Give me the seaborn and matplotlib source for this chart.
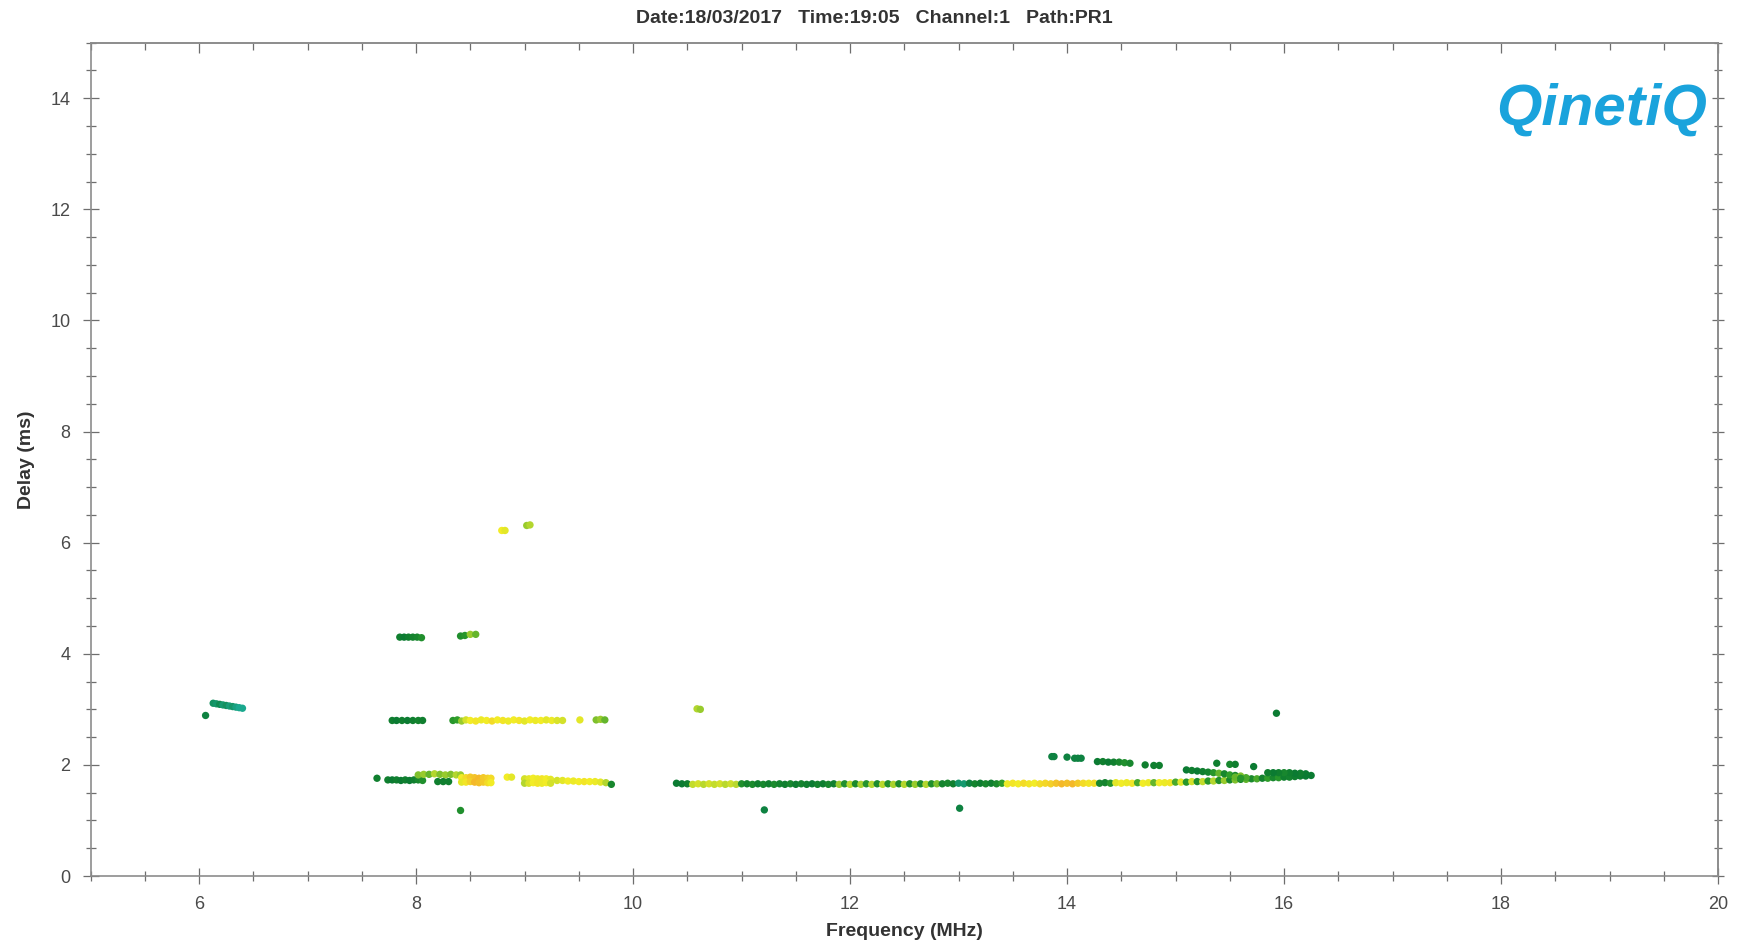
import numpy as np
import pandas as pd
import matplotlib
matplotlib.use("Agg")
import matplotlib.pyplot as plt
from matplotlib.colors import LinearSegmentedColormap
from matplotlib.ticker import MultipleLocator
import seaborn as sns

# ---------------- data ----------------
# main low-ray trace (F-layer)
f_low = [10.40, 10.45, 10.50, 10.55, 10.60, 10.65, 10.70, 10.75, 10.80, 10.85,
         10.90, 10.95, 11.00, 11.05, 11.10, 11.15, 11.20, 11.25, 11.30, 11.35,
         11.40, 11.45, 11.50, 11.55, 11.60, 11.65, 11.70, 11.75, 11.80, 11.85,
         11.90, 11.95, 12.00, 12.05, 12.10, 12.15, 12.20, 12.25, 12.30, 12.35,
         12.40, 12.45, 12.50, 12.55, 12.60, 12.65, 12.70, 12.75, 12.80, 12.85,
         12.90, 12.95, 13.00, 13.05, 13.10, 13.15, 13.20, 13.25, 13.30, 13.35,
         13.40, 13.45, 13.50, 13.55, 13.60, 13.65, 13.70, 13.75, 13.80, 13.85,
         13.90, 13.95, 14.00, 14.05, 14.10, 14.15, 14.20, 14.25, 14.30, 14.35,
         14.40, 14.45, 14.50, 14.55, 14.60, 14.65, 14.70, 14.75, 14.80, 14.85,
         14.90, 14.95, 15.00, 15.05, 15.10, 15.15, 15.20, 15.25, 15.30, 15.35,
         15.40, 15.45, 15.50, 15.55, 15.60, 15.65, 15.70, 15.75, 15.80, 15.85,
         15.90, 15.95, 16.00, 16.05, 16.10, 16.15, 16.20, 16.25]
d_low = [1.67, 1.66, 1.66, 1.65, 1.66, 1.65, 1.66, 1.65, 1.66, 1.65,
         1.66, 1.65, 1.66, 1.66, 1.65, 1.66, 1.65, 1.66, 1.65, 1.66,
         1.65, 1.66, 1.65, 1.66, 1.65, 1.66, 1.65, 1.66, 1.65, 1.66,
         1.65, 1.66, 1.65, 1.66, 1.65, 1.66, 1.65, 1.66, 1.65, 1.66,
         1.65, 1.66, 1.65, 1.66, 1.65, 1.66, 1.65, 1.66, 1.66, 1.66,
         1.67, 1.66, 1.67, 1.66, 1.67, 1.66, 1.67, 1.66, 1.67, 1.66,
         1.67, 1.66, 1.67, 1.66, 1.67, 1.66, 1.67, 1.66, 1.67, 1.66,
         1.67, 1.66, 1.67, 1.66, 1.67, 1.67, 1.67, 1.67, 1.67, 1.68,
         1.67, 1.68, 1.67, 1.68, 1.67, 1.68, 1.67, 1.68, 1.68, 1.68,
         1.68, 1.68, 1.69, 1.69, 1.69, 1.70, 1.70, 1.70, 1.71, 1.71,
         1.72, 1.72, 1.73, 1.73, 1.74, 1.74, 1.75, 1.75, 1.76, 1.76,
         1.77, 1.77, 1.78, 1.78, 1.79, 1.80, 1.80, 1.81]
a_low = [0.12, 0.12, 0.15, 0.65, 0.70, 0.62, 0.70, 0.65, 0.70, 0.62,
         0.68, 0.62, 0.25, 0.18, 0.22, 0.15, 0.20, 0.15, 0.22, 0.18,
         0.15, 0.20, 0.14, 0.18, 0.15, 0.12, 0.18, 0.14, 0.20, 0.15,
         0.55, 0.25, 0.62, 0.22, 0.58, 0.28, 0.60, 0.22, 0.62, 0.25,
         0.58, 0.22, 0.60, 0.25, 0.55, 0.22, 0.60, 0.25, 0.50, 0.18,
         0.20, 0.15, 0.05, 0.04, 0.10, 0.18, 0.14, 0.20, 0.15, 0.22,
         0.35, 0.78, 0.82, 0.80, 0.85, 0.82, 0.80, 0.84, 0.86, 0.88,
         0.92, 0.95, 0.93, 0.95, 0.90, 0.85, 0.82, 0.84, 0.20, 0.18,
         0.30, 0.75, 0.80, 0.78, 0.82, 0.40, 0.80, 0.78, 0.45, 0.80,
         0.78, 0.82, 0.40, 0.75, 0.30, 0.70, 0.25, 0.65, 0.30, 0.60,
         0.25, 0.55, 0.20, 0.50, 0.18, 0.45, 0.22, 0.40, 0.18, 0.35,
         0.20, 0.30, 0.15, 0.18, 0.15, 0.14, 0.12, 0.12]

# high-ray / nose return and nearby echoes
f_up = [16.20, 16.15, 16.10, 16.05, 16.00, 15.95, 15.90, 15.85,
        15.10, 15.15, 15.20, 15.25, 15.30, 15.35, 15.40, 15.45, 15.50, 15.55,
        15.55, 15.60, 15.65, 15.60,
        15.38, 15.50, 15.55, 15.72,
        14.28, 14.33, 14.38, 14.43, 14.48, 14.53, 14.58, 14.72, 14.80, 14.85,
        13.86, 13.88, 14.00, 14.07, 14.10, 14.13]
d_up = [1.84, 1.85, 1.85, 1.86, 1.86, 1.86, 1.86, 1.86,
        1.91, 1.90, 1.89, 1.88, 1.87, 1.86, 1.85, 1.84, 1.82, 1.81,
        1.78, 1.80, 1.77, 1.76,
        2.03, 2.01, 2.01, 1.97,
        2.06, 2.06, 2.05, 2.05, 2.05, 2.04, 2.03, 2.00, 1.99, 1.99,
        2.15, 2.15, 2.14, 2.12, 2.12, 2.12]
a_up = [0.12, 0.15, 0.12, 0.15, 0.20, 0.15, 0.12, 0.15,
        0.12, 0.15, 0.12, 0.15, 0.18, 0.30, 0.45, 0.20, 0.35, 0.20,
        0.45, 0.50, 0.40, 0.30,
        0.15, 0.20, 0.15, 0.12,
        0.12, 0.15, 0.12, 0.15, 0.20, 0.25, 0.20, 0.15, 0.15, 0.15,
        0.10, 0.10, 0.10, 0.10, 0.10, 0.10]

# lower-frequency echoes (7.6-9.8 MHz)
f_echo = [7.78, 7.82, 7.87, 7.92, 7.97, 8.02, 8.06,
          8.34, 8.38, 8.42, 8.46, 8.50, 8.55, 8.60, 8.65, 8.70, 8.75, 8.80,
          8.85, 8.90, 8.95, 9.00, 9.05, 9.10, 9.15, 9.20, 9.25, 9.30, 9.35,
          9.51, 9.66, 9.70, 9.74,
          7.64,
          7.74, 7.78, 7.82, 7.86, 7.90, 7.94, 7.98, 8.02, 8.06,
          8.02, 8.07, 8.12, 8.17, 8.22, 8.27, 8.32, 8.37, 8.41,
          8.20, 8.25, 8.30,
          8.42, 8.46, 8.50, 8.54, 8.58, 8.62, 8.66, 8.69,
          8.42, 8.46, 8.50, 8.54, 8.58, 8.62, 8.66, 8.69,
          8.84, 8.88,
          9.00, 9.04, 9.08, 9.12, 9.16, 9.20, 9.24,
          9.00, 9.04, 9.08, 9.12, 9.16, 9.20, 9.24,
          9.30, 9.35, 9.40, 9.45, 9.50, 9.55, 9.60, 9.65, 9.70, 9.75, 9.80]
d_echo = [2.80, 2.80, 2.80, 2.80, 2.80, 2.80, 2.80,
          2.80, 2.81, 2.79, 2.81, 2.80, 2.79, 2.81, 2.80, 2.79, 2.81, 2.80,
          2.79, 2.81, 2.80, 2.79, 2.81, 2.80, 2.80, 2.81, 2.80, 2.80, 2.80,
          2.81, 2.81, 2.82, 2.81,
          1.76,
          1.73, 1.73, 1.73, 1.72, 1.73, 1.72, 1.73, 1.73, 1.72,
          1.82, 1.83, 1.83, 1.84, 1.83, 1.82, 1.83, 1.82, 1.82,
          1.70, 1.70, 1.70,
          1.77, 1.77, 1.78, 1.77, 1.76, 1.77, 1.76, 1.76,
          1.69, 1.69, 1.70, 1.69, 1.68, 1.69, 1.68, 1.68,
          1.78, 1.78,
          1.75, 1.75, 1.76, 1.75, 1.75, 1.75, 1.74,
          1.67, 1.67, 1.68, 1.67, 1.67, 1.68, 1.67,
          1.72, 1.72, 1.71, 1.71, 1.70, 1.70, 1.70, 1.70, 1.69, 1.68, 1.65]
a_echo = [0.15, 0.12, 0.15, 0.12, 0.15, 0.18, 0.15,
          0.30, 0.35, 0.55, 0.70, 0.80, 0.82, 0.78, 0.80, 0.85, 0.80, 0.82,
          0.78, 0.80, 0.82, 0.75, 0.80, 0.78, 0.80, 0.75, 0.78, 0.72, 0.70,
          0.75, 0.50, 0.55, 0.45,
          0.15,
          0.15, 0.12, 0.15, 0.12, 0.15, 0.12, 0.15, 0.20, 0.25,
          0.50, 0.55, 0.45, 0.60, 0.50, 0.55, 0.50, 0.60, 0.55,
          0.15, 0.15, 0.15,
          0.80, 0.85, 0.90, 0.92, 0.95, 0.90, 0.88, 0.85,
          0.75, 0.82, 0.88, 0.95, 0.93, 0.90, 0.85, 0.80,
          0.80, 0.75,
          0.70, 0.75, 0.80, 0.78, 0.82, 0.80, 0.75,
          0.60, 0.72, 0.80, 0.82, 0.78, 0.80, 0.70,
          0.70, 0.75, 0.80, 0.78, 0.80, 0.82, 0.80, 0.78, 0.75, 0.60, 0.20]

# isolated echoes, 6 MHz trace, 4.3 ms and 6.2 ms traces
f_misc = [6.06, 6.13, 6.16, 6.19, 6.22, 6.25, 6.28, 6.31, 6.34, 6.37, 6.40,
          7.85, 7.89, 7.93, 7.97, 8.01, 8.05,
          8.41, 8.45, 8.50, 8.55,
          8.79, 8.82, 9.02, 9.05,
          8.41, 11.21, 13.01, 15.93, 10.59, 10.62]
d_misc = [2.89, 3.11, 3.10, 3.09, 3.08, 3.07, 3.06, 3.05, 3.04, 3.03, 3.02,
          4.30, 4.30, 4.30, 4.30, 4.30, 4.29,
          4.32, 4.33, 4.35, 4.35,
          6.22, 6.22, 6.31, 6.32,
          1.18, 1.19, 1.22, 2.93, 3.01, 3.00]
a_misc = [0.10, 0.06, 0.05, 0.08, 0.04, 0.06, 0.03, 0.05, 0.02, 0.00, 0.00,
          0.15, 0.12, 0.15, 0.18, 0.20, 0.25,
          0.25, 0.30, 0.55, 0.45,
          0.80, 0.75, 0.55, 0.60,
          0.25, 0.10, 0.10, 0.12, 0.60, 0.55]

x_ticks = [6, 8, 10, 12, 14, 16, 18, 20]
y_ticks = [0, 2, 4, 6, 8, 10, 12, 14]
title_text = "Date:18/03/2017   Time:19:05   Channel:1   Path:PR1"
x_label = "Frequency (MHz)"
y_label = "Delay (ms)"
logo_text = "QinetiQ"

# ---------------- build frame ----------------
df = pd.concat([
    pd.DataFrame({"freq": f_low, "delay": d_low, "amp": a_low}),
    pd.DataFrame({"freq": f_up, "delay": d_up, "amp": a_up}),
    pd.DataFrame({"freq": f_echo, "delay": d_echo, "amp": a_echo}),
    pd.DataFrame({"freq": f_misc, "delay": d_misc, "amp": a_misc}),
], ignore_index=True)

# ---------------- style ----------------
sns.set_style("white")
plt.rcParams["font.family"] = ["Liberation Sans", "DejaVu Sans"]

cmap = LinearSegmentedColormap.from_list(
    "iono",
    [(0.00, "#1aa88e"), (0.12, "#0b7a30"), (0.35, "#2f9e2a"),
     (0.60, "#b3d62e"), (0.80, "#f2ec26"), (1.00, "#f4a82a")])

fig = plt.figure(figsize=(17.52, 9.49), dpi=100)
ax = fig.add_axes([0.0517, 0.0769, 0.9806 - 0.0517, 0.955 - 0.0769])

sns.scatterplot(data=df, x="freq", y="delay", hue="amp", palette=cmap,
                hue_norm=(0, 1), s=28, marker="o", linewidth=0,
                legend=False, ax=ax)

ax.set_xlim(5, 20)
ax.set_ylim(0, 15)
ax.set_xticks(x_ticks)
ax.set_yticks(y_ticks)
ax.xaxis.set_minor_locator(MultipleLocator(0.5))
ax.yaxis.set_minor_locator(MultipleLocator(0.5))

spine_col = "#8c8c8c"
for sp in ax.spines.values():
    sp.set_visible(True)
    sp.set_color(spine_col)
    sp.set_linewidth(1.2)

ax.tick_params(which="both", color="#6e6e6e", width=0.9)
ax.tick_params(which="major", length=11, pad=9, labelsize=13,
               labelcolor="#4a4a4a")
ax.tick_params(which="minor", length=7)
ax.tick_params(which="both", axis="x", direction="inout", bottom=True, top=False)
ax.tick_params(which="both", axis="y", direction="inout", left=True, right=False)
# ticks on top/right spines via secondary axes
sec_x = ax.secondary_xaxis("top")
sec_x.set_xticks(x_ticks)
sec_x.xaxis.set_minor_locator(MultipleLocator(0.5))
sec_x.tick_params(which="both", direction="in", labeltop=False, color="#6e6e6e", width=0.9)
sec_x.tick_params(which="major", length=7)
sec_x.tick_params(which="minor", length=5)
sec_x.spines["top"].set_color(spine_col)
sec_x.spines["top"].set_linewidth(1.2)
sec_y = ax.secondary_yaxis("right")
sec_y.set_yticks(y_ticks)
sec_y.yaxis.set_minor_locator(MultipleLocator(0.5))
sec_y.tick_params(which="both", direction="inout", labelright=False, color="#6e6e6e", width=0.9)
sec_y.tick_params(which="major", length=9)
sec_y.tick_params(which="minor", length=6)
sec_y.spines["right"].set_color(spine_col)
sec_y.spines["right"].set_linewidth(1.2)

ax.set_xlabel(x_label, fontsize=14, fontweight="bold", color="#333333")
ax.set_ylabel(y_label, fontsize=14, fontweight="bold", color="#333333")
ax.xaxis.set_label_coords(0.5, -0.056)
ax.yaxis.set_label_coords(-0.034, 0.5)

fig.text(0.499, 0.981, title_text, ha="center", va="center",
         fontsize=14, fontweight="bold", color="#333333")

fig.text(0.9743, 0.884, logo_text, ha="right", va="center",
         fontsize=42, fontweight="bold", fontstyle="italic", color="#1aa3dc")

fig.savefig("out.png", dpi=100, facecolor="white")
